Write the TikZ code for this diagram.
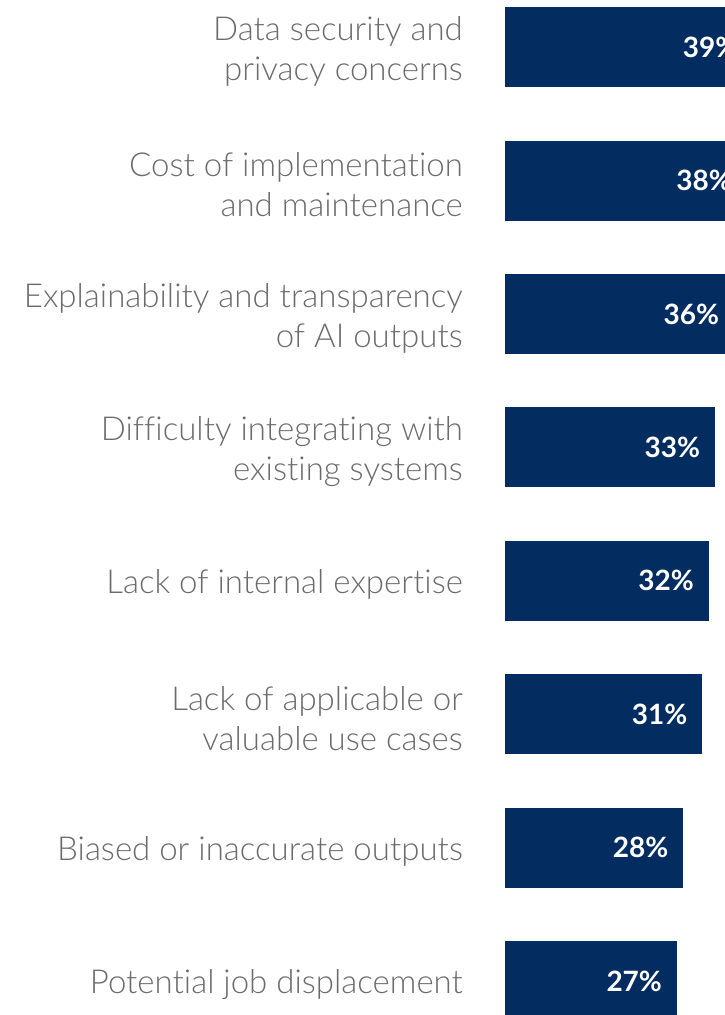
\documentclass[tikz,border=0pt]{standalone}
\usepackage{fontspec}
\setmainfont{Lato}
\newfontfamily\lightfont{Lato Light}[Ligatures=NoCommon]
\usetikzlibrary{positioning}
\definecolor{navy}{HTML}{032D60}
\definecolor{labelgrey}{HTML}{6B6B6B}
\tikzset{
  bar/.style={fill=navy, draw=none, inner sep=0pt, anchor=north west, minimum height=80pt},
  pct/.style={text=white, font=\fontsize{28}{28}\selectfont\bfseries, anchor=east, inner sep=0pt},
  cat/.style={text=labelgrey, font=\lightfont\fontsize{33}{40}\selectfont, align=right, anchor=east, inner sep=0pt, yshift=-4pt},
}

\begin{document}
\begin{tikzpicture}[x=1pt, y=-1pt]
  \useasboundingbox (0,0) rectangle (725,1015);
  \clip (0,0) rectangle (725,1015);

  % one bar per barrier, 6.36px per percent
  \foreach \val/\txt [count=\i] in {
      39/{Data security and\\privacy concerns},
      38/{Cost of implementation\\and maintenance},
      36/{Explainability and transparency\\of AI outputs},
      33/{Difficulty integrating with\\existing systems},
      32/{Lack of internal expertise},
      31/{Lack of applicable or\\valuable use cases},
      28/{Biased or inaccurate outputs},
      27/{Potential job displacement}}{
    \pgfmathsetmacro{\bartop}{7+133.4*(\i-1)}
    \node[bar, minimum width=\val*6.36pt] (bar\i) at (505,\bartop) {};
    \node[pct, left=15pt of bar\i.east] (pct\i) {\val\%};
    \node[cat, left=42pt of bar\i.west] (cat\i) {\txt};
  }
\end{tikzpicture}
\end{document}
